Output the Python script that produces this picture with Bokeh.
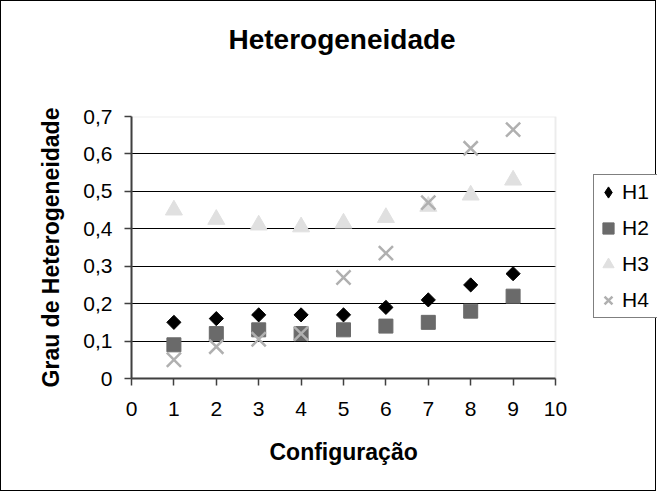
import math

from bokeh.embed import file_html
from bokeh.models import (BoxAnnotation, ColumnDataSource, CustomJSTickFormatter,
                          FixedTicker, Legend, LegendItem, Range1d, Title)
from bokeh.plotting import figure
from bokeh.resources import INLINE

# Configuração (eixo x) e grau de heterogeneidade por série
configuracao = [1, 2, 3, 4, 5, 6, 7, 8, 9]
h1 = [0.15, 0.16, 0.17, 0.17, 0.17, 0.19, 0.21, 0.25, 0.28]
h2 = [0.09, 0.12, 0.13, 0.12, 0.13, 0.14, 0.15, 0.18, 0.22]
h3 = [0.45, 0.425, 0.41, 0.405, 0.415, 0.43, 0.46, 0.49, 0.53]
h4 = [0.05, 0.085, 0.105, 0.12, 0.27, 0.335, 0.47, 0.615, 0.665]

x_ticks = [0, 1, 2, 3, 4, 5, 6, 7, 8, 9, 10]
y_ticks = [0, 0.1, 0.2, 0.3, 0.4, 0.5, 0.6, 0.7]

FONT = "Liberation Sans"

x0, x1 = x_ticks[0], x_ticks[-1]
y0, y1 = y_ticks[0], y_ticks[-1]

# the frame runs to the right edge so the legend can sit beside the plot area;
# the visible x span 0..10 covers 424 of its 526 px
PLOT_W, FRAME_L, AREA_W = 656, 130, 424
x_end = x0 + (x1 - x0) * (PLOT_W - FRAME_L) / AREA_W

src = ColumnDataSource(dict(x=configuracao, h1=h1, h2=h2, h3=h3, h4=h4))

p = figure(width=PLOT_W, height=491, output_backend="svg", toolbar_location=None,
           x_range=Range1d(x0, x_end), y_range=Range1d(y0, y1),
           min_border_left=FRAME_L, min_border_right=0,
           min_border_top=115, min_border_bottom=114)
p.styles = {"border": "1px solid black"}
p.background_fill_color = "white"
p.border_fill_color = "white"
p.outline_line_color = None

# título (linha extra em branco para subir o texto)
p.title.text = "Heterogeneidade\n "
p.title.text_font = FONT
p.title.text_font_size = "28px"
p.title.text_font_style = "bold"
p.title.text_color = "black"
p.title.text_line_height = 1.35
p.title.align = "left"
p.title.offset = 97
p.title.standoff = 40

# eixos
for ax in (p.xaxis[0], p.yaxis[0]):
    ax.axis_line_color = "#404040"
    ax.axis_line_width = 2
    ax.major_tick_line_color = "#404040"
    ax.major_tick_line_width = 1.5
    ax.major_tick_out = 7
    ax.major_tick_in = 0
    ax.minor_tick_line_color = None
    ax.major_label_text_font = FONT
    ax.major_label_text_font_size = "21px"
    ax.major_label_text_color = "black"
    ax.axis_label_text_font = FONT
    ax.axis_label_text_font_size = "23px"
    ax.axis_label_text_font_style = "bold"
    ax.axis_label_text_color = "black"

p.xaxis.bounds = (x0, x1)
p.xaxis.ticker = FixedTicker(ticks=x_ticks)
p.yaxis.ticker = FixedTicker(ticks=y_ticks)
p.yaxis.formatter = CustomJSTickFormatter(
    code="return tick === 0 ? '0' : tick.toFixed(1).replace('.', ',');")
p.yaxis.axis_label = "Grau de Heterogeneidade"
p.xaxis.major_label_standoff = 16
p.yaxis.major_label_standoff = 12
p.yaxis.axis_label_standoff = 16

# rótulo do eixo x centrado sob a área 0..10
x_title = Title(text="Configuração", align="left", offset=138,
                vertical_align="bottom", standoff=36,
                text_font=FONT, text_font_size="23px",
                text_font_style="bold", text_color="black")
p.add_layout(x_title, "below")

# grade horizontal nas divisões internas
p.xgrid.grid_line_color = None
p.ygrid.ticker = FixedTicker(ticks=y_ticks[1:-1])
p.ygrid.grid_line_color = "black"
p.ygrid.grid_line_width = 1

# área à direita do gráfico fica em branco; moldura cinza da área de plotagem
p.add_layout(BoxAnnotation(left=x1, fill_color="white", fill_alpha=1,
                           line_color=None, level="underlay"))
p.add_layout(BoxAnnotation(left=x0, right=x1, bottom=y0, top=y1,
                           fill_alpha=0, line_color="#c0c0c0", line_width=2,
                           level="underlay"))

r1 = p.scatter("x", "h1", source=src, marker="square", size=10,
               angle=math.pi / 4, fill_color="black", line_color="black")
r2 = p.scatter("x", "h2", source=src, marker="square", size=14,
               fill_color="#6a6a6a", line_color="#6a6a6a")
r3 = p.scatter("x", "h3", source=src, marker="triangle", size=17,
               fill_color="#e0e0e0", line_color="#e0e0e0")
r4 = p.scatter("x", "h4", source=src, marker="x", size=20,
               line_color="#b0b0b0", line_width=2.5)
# symbol used for H1 in the legend box (hidden on the plot itself)
r1_key = p.scatter("x", "h1", source=src, marker="diamond", size=14,
                   fill_color="black", line_color="black", visible=False)

legend = Legend(items=[LegendItem(label="H1", renderers=[r1_key]),
                       LegendItem(label="H2", renderers=[r2]),
                       LegendItem(label="H3", renderers=[r3]),
                       LegendItem(label="H4", renderers=[r4])],
                location=(462, 60), orientation="vertical",
                border_line_color="black", border_line_width=1,
                background_fill_color="white", background_fill_alpha=1,
                inactive_fill_alpha=0,
                padding=0, spacing=2, margin=0,
                glyph_width=28, glyph_height=34, label_standoff=0,
                label_width=70, label_height=34,
                label_text_font=FONT, label_text_font_size="21px",
                label_text_color="black")
p.add_layout(legend, "center")

open("out.html", "w").write(file_html(p, INLINE))
